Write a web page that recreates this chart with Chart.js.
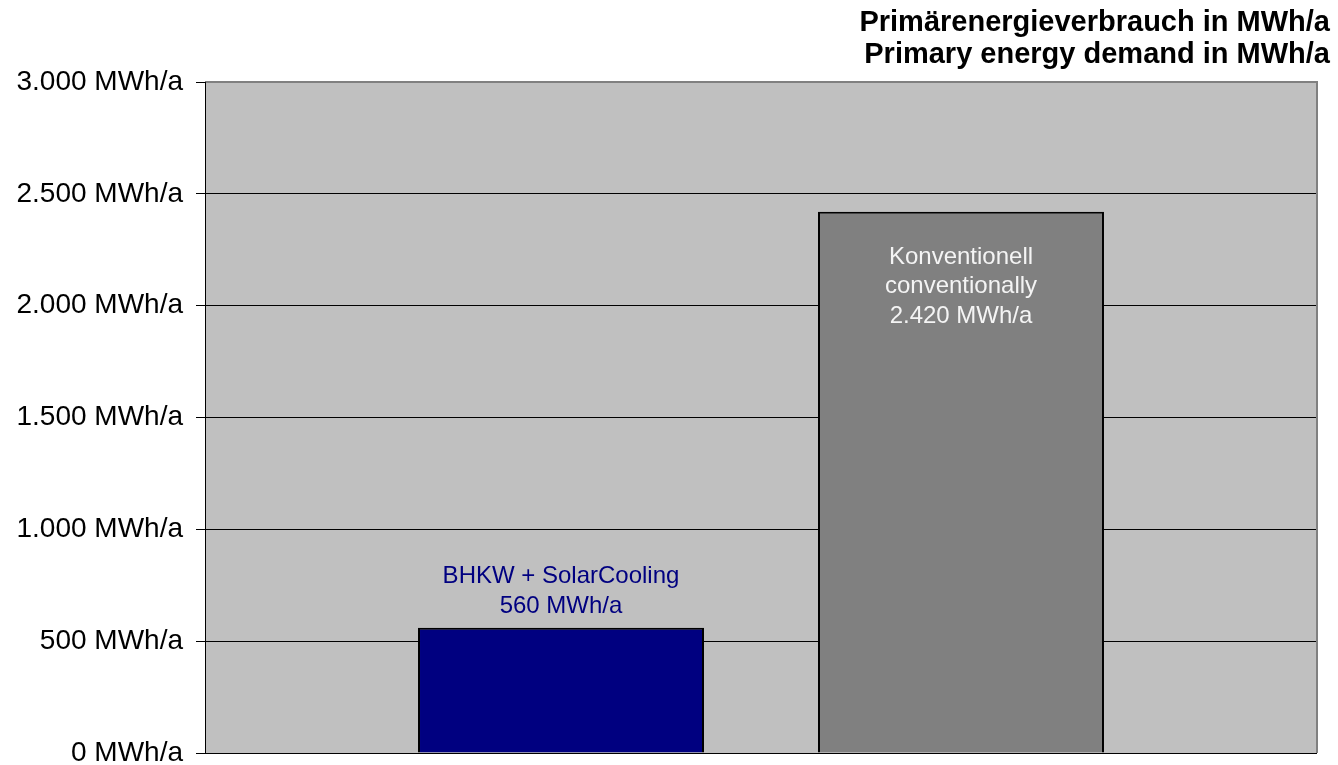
<!DOCTYPE html>
<html>
<head>
<meta charset="utf-8">
<script src="https://cdn.jsdelivr.net/npm/chart.js@4"></script>
<style>
  html, body { margin: 0; padding: 0; background: #fff; }
  #wrap { width: 1338px; height: 765px; }
</style>
</head>
<body>
<div id="wrap"><canvas id="chart"></canvas></div>
<script>
// Daten
const categories = [""];
const seriesNames = ["BHKW + SolarCooling", "Konventionell conventionally"];
const seriesLabelLines = [["BHKW + SolarCooling"], ["Konventionell", "conventionally"]];
const seriesValues = [560, 2420];
const yTicks = [0, 500, 1000, 1500, 2000, 2500, 3000];
const titleLines = ["Primärenergieverbrauch in MWh/a", "Primary energy demand in MWh/a"];

const FONT = "'Liberation Sans', Arial, sans-serif";

const fmt = (v) => {
  const s = String(Math.round(v));
  return s.replace(/\B(?=(\d{3})+(?!\d))/g, ".") + " MWh/a";
};

// Hintergrund, Rahmen, Titel und Beschriftungen
const deko = {
  id: "deko",
  beforeDraw(chart) {
    const { ctx, chartArea: a } = chart;
    ctx.save();
    ctx.fillStyle = "#C0C0C0";
    ctx.fillRect(a.left, a.top, a.right - a.left, a.bottom - a.top);
    ctx.restore();
  },
  afterDraw(chart) {
    const { ctx, chartArea: a } = chart;
    ctx.save();
    // Rahmen oben / rechts
    ctx.strokeStyle = "#808080";
    ctx.lineWidth = 2;
    ctx.beginPath();
    ctx.moveTo(a.left, a.top);
    ctx.lineTo(a.right, a.top);
    ctx.lineTo(a.right, a.bottom);
    ctx.stroke();
    // Achsen links / unten
    ctx.strokeStyle = "#000";
    ctx.lineWidth = 1;
    ctx.beginPath();
    ctx.moveTo(a.left + 0.5, a.top);
    ctx.lineTo(a.left + 0.5, a.bottom + 0.5);
    ctx.lineTo(a.right, a.bottom + 0.5);
    ctx.stroke();

    // Titel
    ctx.fillStyle = "#000";
    ctx.font = "bold 29px " + FONT;
    ctx.textAlign = "right";
    ctx.textBaseline = "alphabetic";
    ctx.fillText(titleLines[0], 1330, 31);
    ctx.fillText(titleLines[1], 1330, 63);

    // Balkenbeschriftungen
    ctx.font = "24px " + FONT;
    ctx.textAlign = "center";
    const lh = 29.5;
    chart.data.datasets.forEach((ds, i) => {
      const bar = chart.getDatasetMeta(i).data[0];
      const lines = seriesLabelLines[i].concat([fmt(seriesValues[i])]);
      if (i === 0) {
        ctx.fillStyle = "#000080";
        let y = bar.y - 15 - (lines.length - 1) * lh;
        lines.forEach((t) => { ctx.fillText(t, bar.x, y); y += lh; });
      } else {
        ctx.fillStyle = "#F4F4F4";
        let y = bar.y + 52;
        lines.forEach((t) => { ctx.fillText(t, bar.x, y); y += lh; });
      }
    });
    ctx.restore();
  },
};

new Chart(document.getElementById("chart"), {
  type: "bar",
  data: {
    labels: categories,
    datasets: [
      {
        label: seriesNames[0],
        data: [seriesValues[0]],
        backgroundColor: "#000080",
        borderColor: "#000",
        borderWidth: 2,
      },
      {
        label: seriesNames[1],
        data: [seriesValues[1]],
        backgroundColor: "#808080",
        borderColor: "#000",
        borderWidth: 2,
      },
    ],
  },
  options: {
    responsive: true,
    maintainAspectRatio: false,
    animation: false,
    layout: { padding: { top: 82, right: 21, bottom: 12, left: 0 } },
    datasets: {
      bar: { categoryPercentage: 0.7194, barPercentage: 0.715 },
    },
    scales: {
      x: { display: false },
      y: {
        min: 0,
        max: 3000,
        afterFit: (scale) => {
          scale.width = 205;
          scale.paddingTop = 0;
          scale.paddingBottom = 0;
        },
        afterBuildTicks: (scale) => { scale.ticks = yTicks.map((v) => ({ value: v })); },
        border: { display: false },
        grid: { color: "#000", lineWidth: 1, tickLength: 9 },
        ticks: {
          padding: 13,
          color: "#000",
          font: { family: FONT, size: 28 },
          callback: (v) => fmt(v),
        },
      },
    },
    plugins: {
      legend: { display: false },
      title: { display: false },
      tooltip: { enabled: false },
    },
  },
  plugins: [deko],
});
</script>
</body>
</html>
